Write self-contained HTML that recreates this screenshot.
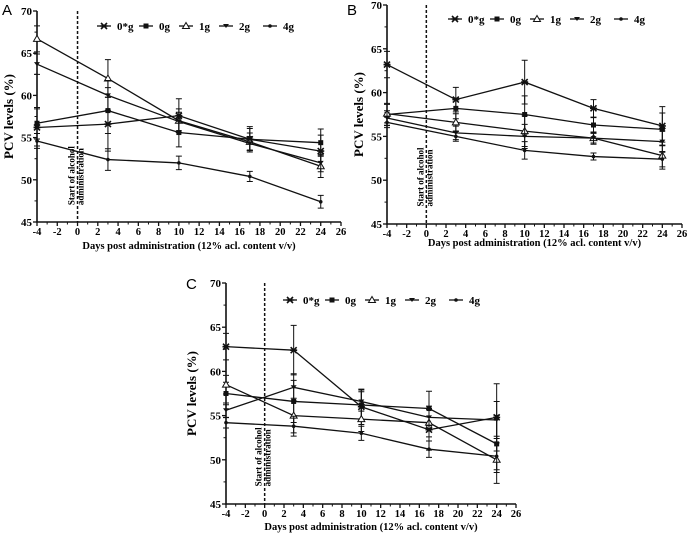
<!DOCTYPE html>
<html><head><meta charset="utf-8"><style>
body{margin:0;background:#fff;width:688px;height:539px;overflow:hidden}
svg{display:block;font-family:"Liberation Serif",serif}
</style></head><body>
<svg id="fig" width="688" height="539" viewBox="0 0 688 539" xmlns="http://www.w3.org/2000/svg"></svg>
<script>
const seriesNames = ["0*g","0g","1g","2g","4g"];
const days = [-4,3,10,17,24];
const xTicks = [-4,-2,0,2,4,6,8,10,12,14,16,18,20,22,24,26];
const yTicks = [45,50,55,60,65,70];
// Panel A
const aS0 = [56.2,56.6,57.6,54.8,53.4];
const aS1 = [56.7,58.2,55.6,54.8,54.4];
const aS2 = [66.7,62.0,57.0,54.5,51.6];
const aS3 = [63.7,60.0,56.9,54.3,52.0];
const aS4 = [54.6,52.4,52.0,50.4,47.4];
const aErr = [2.2,3.2,2.0,1.5,1.9];
// Panel B
const bS0 = [63.2,59.2,61.2,58.2,56.2];
const bS1 = [57.5,58.2,57.5,56.3,55.8];
const bS2 = [57.6,56.6,55.6,54.8,52.8];
const bS3 = [57.1,55.4,55.0,54.8,54.4];
const bS4 = [56.6,55.0,53.4,52.7,52.4];
const bErr = [1.5,1.4,2.5,1.0,2.2];
// Panel C
const cS0 = [62.8,62.4,56.0,53.4,54.8];
const cS1 = [57.5,56.6,56.2,55.8,51.8];
const cS2 = [58.5,55.0,54.6,54.2,50.0];
const cS3 = [55.6,58.2,56.6,54.8,54.5];
const cS4 = [54.2,53.8,53.0,51.2,50.4];
const cErr = [1.5,2.8,2.0,2.3,3.8];

const NS="http://www.w3.org/2000/svg";
const svg=document.getElementById('fig');
function el(tag,attrs,parent,txt){const e=document.createElementNS(NS,tag);for(const k in attrs)e.setAttribute(k,attrs[k]);if(txt!==undefined)e.textContent=txt;(parent||svg).appendChild(e);return e;}

function marker(g,kind,x,y){
  if(kind===0){const m=el('path',{d:`M${x-3},${y-3}L${x+3},${y+3}M${x+3},${y-3}L${x-3},${y+3}M${x-3.5},${y}L${x+3.5},${y}`,stroke:'#111','stroke-width':1.6},g);}
  else if(kind===1){const m=el('rect',{x:x-2.5,y:y-2.5,width:5,height:5,fill:'#111'},g);}
  else if(kind===2){const m=el('path',{d:`M${x},${y-3.5}L${x+3.5},${y+2.5}L${x-3.5},${y+2.5}Z`,fill:'#fff',stroke:'#111','stroke-width':1},g);}
  else if(kind===3){const m=el('path',{d:`M${x-3},${y-2}L${x+3},${y-2}L${x},${y+2}Z`,fill:'#111'},g);}
  else {const m=el('circle',{cx:x,cy:y,r:1.8,fill:'#111'},g);}
}

function panel(name,letter,ox,top,bot,right,series,err,legX,legY,xlabY,letterX,letterY,ylabX){
  const g=el('g',{});
  
  
  const sx=v=>ox+(v-(-4))*(right-ox)/30;
  const sy=v=>bot-(v-45)*(bot-top)/25;
  const lt=el('text',{x:letterX,y:letterY,'font-family':'Liberation Sans,sans-serif','font-size':15},g,letter);
  
  const ax=el('path',{d:`M${ox},${top}L${ox},${bot}L${right},${bot}`,fill:'none',stroke:'#111','stroke-width':1.6},g);
  
  yTicks.forEach(t=>{const y=sy(t);el('line',{x1:ox-4,x2:ox,y1:y,y2:y,stroke:'#111','stroke-width':1.3},g);
    const tl=el('text',{x:ox-5,y:y+4,'text-anchor':'end','font-size':11,'font-weight':'bold'},g,t);
    
    if(t<70)el('line',{x1:ox-2.5,x2:ox,y1:sy(t+2.5),y2:sy(t+2.5),stroke:'#111','stroke-width':1},g);});
  xTicks.forEach(t=>{const x=sx(t);el('line',{x1:x,x2:x,y1:bot,y2:bot+4,stroke:'#111','stroke-width':1.3},g);
    if(t<26)el('line',{x1:sx(t+1),x2:sx(t+1),y1:bot,y2:bot+2.5,stroke:'#111','stroke-width':1},g);
    const tl=el('text',{x:x,y:bot+13,'text-anchor':'middle','font-size':10.5,'font-weight':'bold'},g,t);
    });
  const xl=el('text',{x:(ox+right)/2,y:xlabY,'text-anchor':'middle','font-size':10.5,'font-weight':'bold'},g,'Days post administration (12% acl. content v/v)');
  
  const yl=el('text',{transform:`translate(${ylabX},${(top+bot)/2}) rotate(-90)`,'text-anchor':'middle','font-size':13,'font-weight':'bold'},g,'PCV levels (%)');
  
  const dl=el('line',{x1:sx(0),x2:sx(0),y1:top,y2:bot,stroke:'#111','stroke-width':1.5,'stroke-dasharray':'3,2'},g);
  
  const an=el('text',{transform:`translate(${sx(0)-3},${sy(47)}) rotate(-90)`,'font-size':9,'font-weight':'bold'},g);
  
  el('tspan',{x:0,dy:0},an,'Start of alcohol');el('tspan',{x:0,dy:9},an,'administration');
  series.forEach((s,i)=>{
    const pts=days.map((d,j)=>sx(d)+','+sy(s[j])).join(' ');
    const pl=el('polyline',{points:pts,fill:'none',stroke:'#111','stroke-width':1.3},g);
    
    days.forEach((d,j)=>{
      const x=sx(d),e=err[j]*(1-0.15*i);
      const eb=el('path',{d:`M${x},${sy(s[j]+e)}L${x},${sy(s[j]-e)}M${x-3},${sy(s[j]+e)}L${x+3},${sy(s[j]+e)}M${x-3},${sy(s[j]-e)}L${x+3},${sy(s[j]-e)}`,stroke:'#111','stroke-width':1},g);
      
      marker(g,i,x,sy(s[j]));
    });
  });
  const lg=el('g',{},g);
  const offs=[0,42,82,122,166];
  seriesNames.forEach((n,i)=>{
    const x=legX+offs[i];
    const le=el('g',{},lg);
    el('line',{x1:x,x2:x+14,y1:legY,y2:legY,stroke:'#111','stroke-width':1.3},le);
    marker(le,i,x+7,legY);
    el('text',{x:x+20,y:legY+4,'font-size':11,'font-weight':'bold'},le,n);
  });
}
panel('a','A',37,11,222,341,[aS0,aS1,aS2,aS3,aS4],aErr,97,26,249,2,15,13);
panel('b','B',387,5,224,682,[bS0,bS1,bS2,bS3,bS4],bErr,448,19,246,347,15,363);
panel('c','C',226,283,504,516,[cS0,cS1,cS2,cS3,cS4],cErr,283,300,530,186,289,196);
</script>
</body></html>
